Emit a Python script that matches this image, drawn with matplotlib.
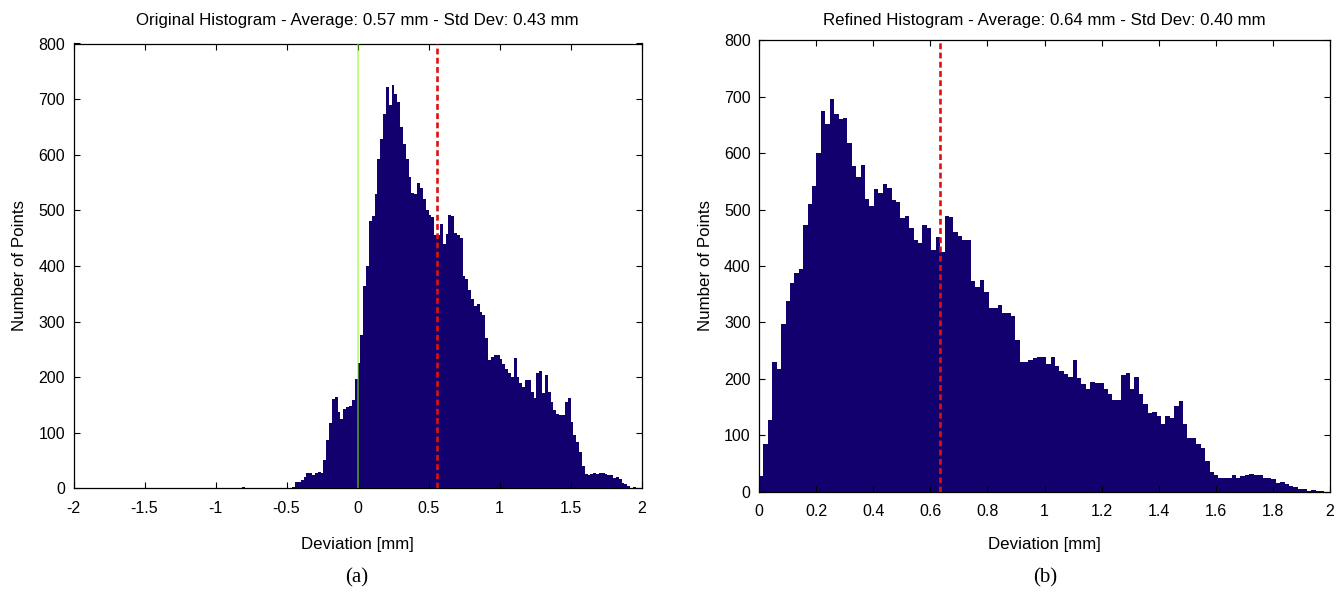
import numpy as np
import matplotlib
matplotlib.use("Agg")
import matplotlib.pyplot as plt

plt.rcParams['font.family'] = ['Liberation Sans', 'DejaVu Sans']

# ---------------- data ----------------
left_title = "Original Histogram - Average: 0.57 mm - Std Dev: 0.43 mm"
right_title = "Refined Histogram - Average: 0.64 mm - Std Dev: 0.40 mm"
x_label = "Deviation [mm]"
y_label = "Number of Points"

# left histogram: bins of width 0.02 starting at -0.48
left_bin_start = -0.48
left_bin_width = 0.02
left_counts = [1, 2, 11, 11, 15, 20, 27, 27, 24, 28, 29, 27, 51, 86, 117, 160, 164, 138, 124, 142,
               147, 148, 158, 196,
               225, 275, 364, 400, 480, 490, 529, 592, 628, 674, 722, 690, 725, 709, 694, 650,
               620, 593, 560, 532, 530, 550, 540, 520, 500, 492, 488, 455, 455, 475, 440, 457,
               492, 490, 460, 456, 450, 381, 376, 357, 340, 327, 331, 317, 312, 270, 231, 237,
               240, 240, 232, 224, 214, 207, 201, 234, 201, 190, 183, 194, 194, 174, 162, 208,
               211, 171, 204, 174, 156, 141, 134, 132, 132, 155, 162, 120, 96, 84, 65, 40,
               26, 24, 26, 27, 25, 28, 28, 26, 24, 24, 18, 20, 16, 10, 8, 4, 1, 2, 0, 0]
left_outlier_x = [-0.81]
left_outlier_counts = [3]
left_mean = 0.563
left_zero = 0.0

# right histogram: bins of width 0.01547 starting at 0
right_bin_start = 0.0
right_bin_width = 0.01547
right_counts = [28, 85, 127, 229, 217, 298, 338, 369, 387, 395, 472, 509, 541, 600, 675, 651,
                695, 669, 660, 663, 617, 577, 558, 578, 519, 507, 537, 530, 546, 539, 517, 514,
                485, 488, 468, 446, 441, 473, 468, 429, 452, 425, 488, 486, 460, 453, 446, 446,
                374, 363, 375, 354, 325, 325, 330, 316, 316, 311, 269, 230, 230, 234, 237, 239,
                239, 227, 239, 223, 213, 209, 204, 233, 201, 190, 182, 194, 192, 192, 182, 173,
                162, 162, 206, 211, 182, 203, 173, 155, 139, 141, 134, 120, 134, 131, 152, 161,
                120, 96, 96, 85, 77, 54, 35, 29, 24, 24, 25, 29, 25, 27, 29, 31,
                29, 29, 24, 24, 22, 15, 18, 14, 10, 8, 5, 5, 2, 3, 1, 1]
right_mean = 0.635

left_xticks = [-2, -1.5, -1, -0.5, 0, 0.5, 1, 1.5, 2]
left_xticklabels = ["-2", "-1.5", "-1", "-0.5", "0", "0.5", "1", "1.5", "2"]
right_xticks = [0, 0.2, 0.4, 0.6, 0.8, 1.0, 1.2, 1.4, 1.6, 1.8, 2.0]
right_xticklabels = ["0", "0.2", "0.4", "0.6", "0.8", "1", "1.2", "1.4", "1.6", "1.8", "2"]
yticks = [0, 100, 200, 300, 400, 500, 600, 700, 800]

# ---------------- style ----------------
BAR = '#13006f'
RED = '#e01010'
FS = 12.2

fig = plt.figure(figsize=(13.38, 5.94), dpi=100)
axL = fig.add_axes([73.5 / 1338, (594 - 488.3) / 594, 568 / 1338, 444.8 / 594])
axR = fig.add_axes([759 / 1338, (594 - 491.7) / 594, 571 / 1338, 451.5 / 594])


def style(ax, xlabel_y, tick_pad):
    ax.tick_params(direction='in', top=True, right=True, length=4, width=0.8,
                   labelsize=11.5, pad=6)
    ax.tick_params(axis='x', pad=tick_pad)
    for s in ax.spines.values():
        s.set_linewidth(0.9)
    ax.set_ylim(0, 800)
    ax.set_yticks(yticks)
    ax.set_yticklabels([str(v) for v in yticks])
    ax.set_xlabel(x_label, fontsize=FS, va='center')
    ax.xaxis.set_label_coords(0.5, xlabel_y)
    ax.set_ylabel(y_label, fontsize=FS, labelpad=8)


def histogram(ax, start, width, counts):
    c = np.asarray(counts, dtype=float)
    edges = start + width * np.arange(len(c) + 1)
    ax.stairs(c, edges, fill=True, color=BAR, linewidth=0)


# left
histogram(axL, left_bin_start, left_bin_width, left_counts)
axL.bar(left_outlier_x, left_outlier_counts, width=left_bin_width, align='edge',
        color=BAR, linewidth=0)
axL.axvline(left_zero, color='#7CFC00', alpha=0.55, linewidth=1.3, zorder=3)
axL.axvline(left_mean, color=RED, linestyle=(0, (2.2, 1.3)), linewidth=1.9, zorder=4)
axL.set_xlim(-2, 2)
axL.set_xticks(left_xticks)
axL.set_xticklabels(left_xticklabels)
style(axL, -(545 - 488.3) / 444.8, 9)
axL.set_title(left_title, fontsize=FS, pad=13)

# right
histogram(axR, right_bin_start, right_bin_width, right_counts)
axR.axvline(right_mean, color=RED, linestyle=(0, (2.2, 1.3)), linewidth=1.9, zorder=4)
axR.set_xlim(0, 2)
axR.set_xticks(right_xticks)
axR.set_xticklabels(right_xticklabels)
style(axR, -(545 - 491.7) / 451.5, 9)
axR.set_title(right_title, fontsize=FS, pad=11)

fig.text(357 / 1338, 1 - 578 / 594, "(a)", ha='center', va='center', fontsize=15,
         family=['Liberation Serif', 'DejaVu Serif'])
fig.text(1045 / 1338, 1 - 578 / 594, "(b)", ha='center', va='center', fontsize=15,
         family=['Liberation Serif', 'DejaVu Serif'])

fig.savefig("out.png", dpi=100)
